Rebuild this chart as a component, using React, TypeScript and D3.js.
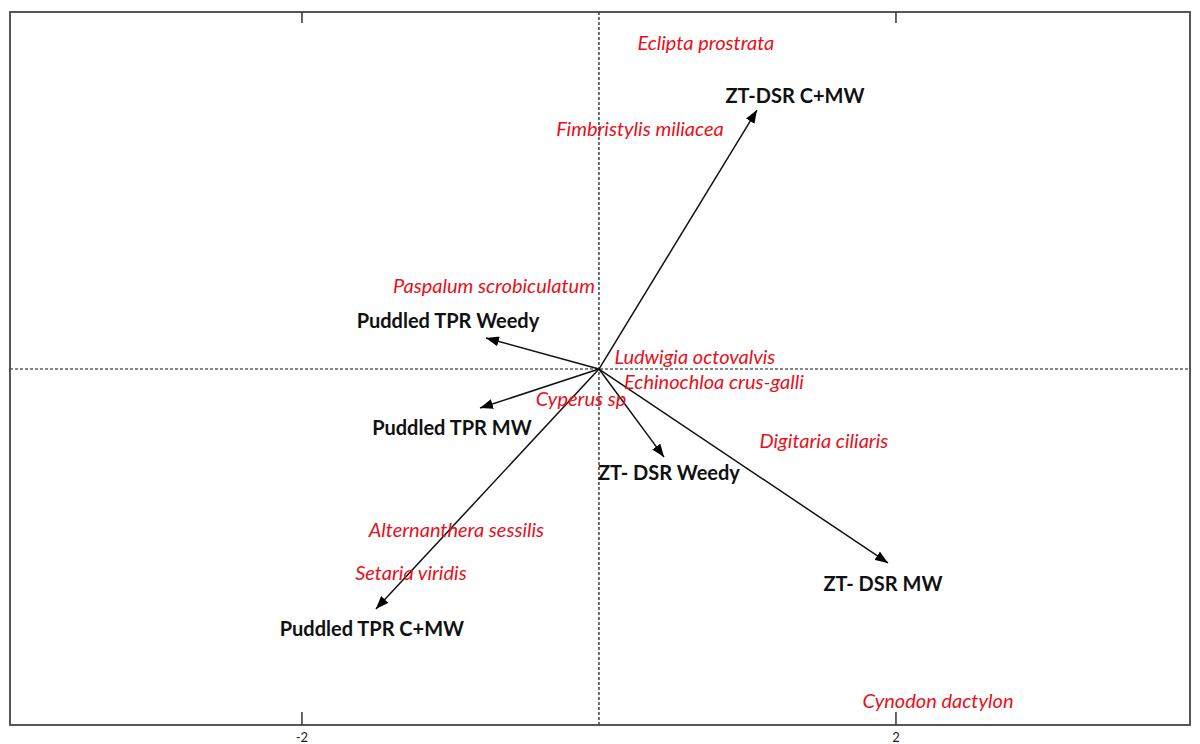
import React, { useEffect, useRef } from "react";
import * as d3 from "d3";

// treatment vectors (arrow tips, biplot units)
const treatments = ["ZT-DSR C+MW", "Puddled TPR Weedy", "Puddled TPR MW", "ZT- DSR Weedy", "ZT- DSR MW", "Puddled TPR C+MW"];
const vecX = [1.064, -0.761, -0.801, 0.438, 1.946, -1.502];
const vecY = [1.744, 0.209, -0.263, -0.593, -1.306, -1.616];
// where each treatment label sits
const labX = [1.32, -1.017, -0.99, 0.471, 1.912, -1.529];
const labY = [1.845, 0.33, -0.39, -0.694, -1.441, -1.744];

// weed species scores
const species = ["Eclipta prostrata", "Fimbristylis miliacea", "Paspalum scrobiculatum", "Ludwigia octovalvis", "Echinochloa crus-galli", "Cyperus sp", "Digitaria ciliaris", "Alternanthera sessilis", "Setaria viridis", "Cynodon dactylon"];
const spX = [0.72, 0.276, -0.707, 0.646, 0.774, -0.121, 1.515, -0.96, -1.266, 2.283];
const spY = [2.2, 1.623, 0.566, 0.088, -0.081, -0.195, -0.478, -1.077, -1.367, -2.228];

const xTicks = [-2, 2];
const xTickLabels = ["-2", "2"];

function App() {
  const ref = useRef(null);

  useEffect(() => {
    document.body.style.margin = "0";
    drawChart();
  }, []);

  const drawChart = () => {
    const left = 10, right = 1190, top = 12, bottom = 725;

    const svg = d3.select(ref.current);
    svg.selectAll("*").remove();

    const x = d3.scaleLinear().domain([-3.966, 3.98]).range([left, right]);
    const y = d3.scaleLinear().domain([-2.397, 2.404]).range([bottom, top]);

    // arrowhead
    svg.append("defs")
      .append("marker")
      .attr("id", "arrow")
      .attr("viewBox", "0 0 13 10")
      .attr("refX", 13)
      .attr("refY", 5)
      .attr("markerWidth", 13)
      .attr("markerHeight", 10)
      .attr("markerUnits", "userSpaceOnUse")
      .attr("orient", "auto")
      .append("path")
      .attr("d", "M0,0 L13,5 L0,10 Z")
      .attr("fill", "#000");

    // dashed zero lines
    svg.append("line")
      .attr("x1", x(0)).attr("x2", x(0))
      .attr("y1", top).attr("y2", bottom)
      .attr("stroke", "#111").attr("stroke-width", 1.2)
      .attr("stroke-dasharray", "3,2");
    svg.append("line")
      .attr("x1", left).attr("x2", right)
      .attr("y1", y(0)).attr("y2", y(0))
      .attr("stroke", "#111").attr("stroke-width", 1.2)
      .attr("stroke-dasharray", "3,2");

    // frame
    svg.append("rect")
      .attr("x", left).attr("y", top)
      .attr("width", right - left).attr("height", bottom - top)
      .attr("fill", "none")
      .attr("stroke", "#444").attr("stroke-width", 1.8);

    // inward ticks top and bottom
    xTicks.forEach((t, i) => {
      svg.append("line")
        .attr("x1", x(t)).attr("x2", x(t))
        .attr("y1", top).attr("y2", top + 11)
        .attr("stroke", "#333").attr("stroke-width", 1.5);
      svg.append("line")
        .attr("x1", x(t)).attr("x2", x(t))
        .attr("y1", bottom).attr("y2", bottom - 13)
        .attr("stroke", "#333").attr("stroke-width", 1.5);
      svg.append("text")
        .attr("x", x(t))
        .attr("y", 742)
        .attr("text-anchor", "middle")
        .style("font-family", "Lato, 'Open Sans', sans-serif")
        .style("font-size", "13px")
        .style("fill", "#222")
        .text(xTickLabels[i]);
    });

    // treatment arrows
    const idx = d3.range(treatments.length);
    svg.selectAll("line.vec")
      .data(idx)
      .enter()
      .append("line")
      .attr("class", "vec")
      .attr("x1", x(0)).attr("y1", y(0))
      .attr("x2", i => x(vecX[i])).attr("y2", i => y(vecY[i]))
      .attr("stroke", "#111").attr("stroke-width", 1.5)
      .attr("marker-end", "url(#arrow)");

    svg.selectAll("text.trt")
      .data(idx)
      .enter()
      .append("text")
      .attr("class", "trt")
      .attr("x", i => x(labX[i])).attr("y", i => y(labY[i]))
      .attr("text-anchor", "middle")
      .attr("dominant-baseline", "central")
      .style("font-family", "Lato, 'Open Sans', sans-serif")
      .style("font-weight", "bold")
      .style("font-size", "20px")
      .style("fill", "#111")
      .text(i => treatments[i]);

    // species labels
    svg.selectAll("text.sp")
      .data(d3.range(species.length))
      .enter()
      .append("text")
      .attr("class", "sp")
      .attr("x", i => x(spX[i])).attr("y", i => y(spY[i]))
      .attr("text-anchor", "middle")
      .attr("dominant-baseline", "central")
      .style("font-family", "Lato, 'Open Sans', sans-serif")
      .style("font-style", "italic")
      .style("font-size", "20px")
      .style("fill", "#e8101a")
      .text(i => species[i]);
  };

  return (
    <svg ref={ref} width={1200} height={744} style={{ display: "block", background: "#fff" }}></svg>
  );
}

export default App;
